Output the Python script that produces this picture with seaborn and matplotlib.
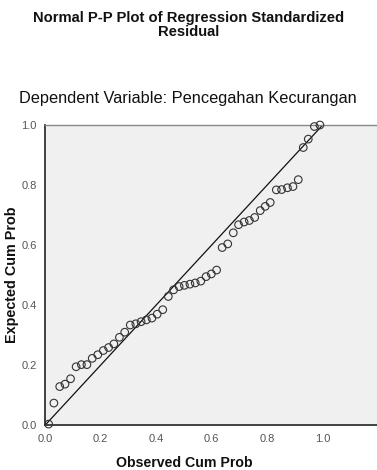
"""Normal P-P plot of regression standardized residual (SPSS style)."""
import matplotlib

matplotlib.use("Agg")
import matplotlib.pyplot as plt  # noqa: E402
import seaborn as sns  # noqa: E402

sns.set_theme(style="white")
plt.rcParams["font.family"] = ["Liberation Sans", "DejaVu Sans"]

# Observed vs expected cumulative probabilities
observed_cum_prob = [
    0.013, 0.032, 0.053, 0.072, 0.092, 0.112, 0.131, 0.151, 0.170, 0.190,
    0.210, 0.229, 0.248, 0.268, 0.287, 0.307, 0.327, 0.346, 0.365, 0.385,
    0.404, 0.424, 0.444, 0.463, 0.483, 0.502, 0.522, 0.541, 0.561, 0.580,
    0.599, 0.618, 0.638, 0.658, 0.678, 0.697, 0.717, 0.736, 0.755, 0.775,
    0.793, 0.811, 0.833, 0.852, 0.873, 0.893, 0.912, 0.930, 0.948, 0.970,
    0.990,
]
expected_cum_prob = [
    0.004, 0.074, 0.129, 0.137, 0.155, 0.195, 0.202, 0.202, 0.223, 0.235,
    0.249, 0.259, 0.271, 0.293, 0.310, 0.334, 0.338, 0.345, 0.351, 0.357,
    0.370, 0.385, 0.429, 0.451, 0.462, 0.466, 0.470, 0.474, 0.480, 0.495,
    0.504, 0.517, 0.592, 0.604, 0.641, 0.668, 0.677, 0.682, 0.692, 0.715,
    0.729, 0.742, 0.784, 0.785, 0.791, 0.795, 0.818, 0.925, 0.953, 0.995,
    1.000,
]
ref_line = [0.0, 1.0]
ticks = [0.0, 0.2, 0.4, 0.6, 0.8, 1.0]
tick_labels = ["0.0", "0.2", "0.4", "0.6", "0.8", "1.0"]

fig = plt.figure(figsize=(3.77, 4.70), dpi=100)
ax = fig.add_axes([45 / 377, (470 - 425.3) / 470, 332 / 377, 300.3 / 470])
ax.set_facecolor("#F0F0F0")

sns.lineplot(x=ref_line, y=ref_line, color="#111111", linewidth=0.9, ax=ax)
sns.scatterplot(x=observed_cum_prob, y=expected_cum_prob, marker="o",
                facecolor="none", edgecolor="#333333", linewidth=0.8, s=30,
                ax=ax, clip_on=False, zorder=3)

ax.set_xlim(0, 332 / 277.7)
ax.set_ylim(0, 1.0)
ax.set_xticks(ticks, tick_labels)
ax.set_yticks(ticks, tick_labels)
ax.tick_params(axis="both", direction="out", length=4, width=1.0,
               color="#333333", labelsize=8, labelcolor="#555555", pad=2)
for side in ("left", "bottom"):
    ax.spines[side].set_color("#333333")
    ax.spines[side].set_linewidth(1.3)
ax.spines["top"].set_color("#888888")
ax.spines["top"].set_linewidth(1.0)
ax.spines["right"].set_visible(False)

ax.set_xlabel("Observed Cum Prob", fontsize=10.2, fontweight="bold",
              va="center", color="#111111")
ax.set_ylabel("Expected Cum Prob", fontsize=10.4, fontweight="bold",
              va="center", color="#111111")
ax.xaxis.set_label_coords((184 - 45) / 332, (425.3 - 463) / 300.3)
ax.yaxis.set_label_coords((12 - 45) / 332, (425.3 - 275) / 300.3)

fig.text(188.5 / 377, 1 - 25 / 470,
         "Normal P-P Plot of Regression Standardized\nResidual",
         ha="center", va="center", fontsize=10.6, fontweight="bold",
         linespacing=0.95, color="#111111")
fig.text(187.5 / 377, 1 - 99 / 470, "Dependent Variable: Pencegahan Kecurangan",
         ha="center", va="center", fontsize=11.8, color="#111111")

fig.savefig("out.png", dpi=100)
